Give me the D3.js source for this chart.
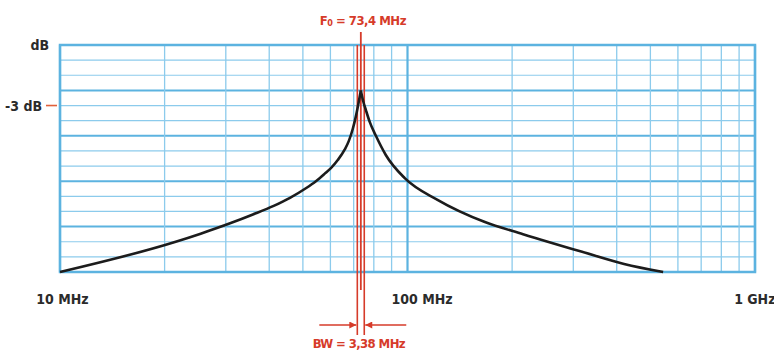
<!DOCTYPE html>
<html>
<head>
<meta charset="utf-8">
<script src="https://cdn.jsdelivr.net/npm/d3@7"></script>
<style>
    body { margin: 0; background: #fff; }
    svg text { font-family: "Liberation Sans Narrow", "DejaVu Sans Condensed", "Liberation Sans", sans-serif; font-weight: bold; }
</style>
</head>
<body>
<div id="chart"></div>
<script>
// frequencies in MHz, level in dB relative to the peak
const lowerFreq = [10, 21.3, 25.4, 31.0, 35.9, 41.2, 45.9, 51.0, 54.5, 57.8, 60.2, 63.0, 66.0, 67.8, 69.6, 71.0, 72.2, 73.4];
const lowerDb = [-36, -30.1, -28.4, -26.3, -24.6, -22.9, -21.3, -19.4, -18.0, -16.5, -15.4, -13.8, -11.7, -10.0, -7.6, -5.2, -2.7, 0];
const upperFreq = [73.4, 74.6, 75.9, 77.9, 81.1, 86.6, 98.2, 122, 167, 215, 318, 420, 544];
const upperDb = [0, -2.2, -3.9, -6.3, -9.0, -12.8, -17.4, -21.7, -26.1, -28.5, -32.0, -34.4, -36];

const freqTicks = [10, 100, 1000];
const freqLabels = ["10 MHz", "100 MHz", "1 GHz"];
const dbTicks = [-3];
const dbLabels = ["-3 dB"];

const centerFreq = 73.4;
const bandwidth = 3.38;

const width = 774;
const height = 359;
const margin = { top: 45, right: 19, bottom: 87, left: 60 };

const red = "#d63b2a";
const blue = "#5cb3e0";
const lightBlue = "#8ccbec";

const svg = d3.select("#chart")
    .append("svg")
    .attr("width", width)
    .attr("height", height);

const x = d3.scaleLog()
    .domain([10, 1000])
    .range([margin.left, width - margin.right]);

const y = d3.scaleLinear()
    .domain([-36, 9])
    .range([height - margin.bottom, margin.top]);

// grid
const xGrid = x.ticks();
const yGrid = d3.range(-36, 10, 3);

svg.append("g")
    .selectAll("line")
    .data(yGrid)
    .enter()
    .append("line")
    .attr("x1", x(10))
    .attr("x2", x(1000))
    .attr("y1", d => y(d))
    .attr("y2", d => y(d))
    .attr("stroke", d => d % 9 === 0 ? blue : lightBlue)
    .attr("stroke-width", d => d % 9 === 0 ? 2 : 1.2);

svg.append("g")
    .selectAll("line")
    .data(xGrid)
    .enter()
    .append("line")
    .attr("x1", d => x(d))
    .attr("x2", d => x(d))
    .attr("y1", y(9))
    .attr("y2", y(-36))
    .attr("stroke", d => freqTicks.includes(d) ? blue : lightBlue)
    .attr("stroke-width", d => freqTicks.includes(d) ? 2.2 : 1.3);

svg.append("rect")
    .attr("x", x(10))
    .attr("y", y(9))
    .attr("width", x(1000) - x(10))
    .attr("height", y(-36) - y(9))
    .attr("fill", "none")
    .attr("stroke", blue)
    .attr("stroke-width", 2.5);

// red markers
const bwLow = centerFreq - bandwidth / 2;
const bwHigh = centerFreq + bandwidth / 2;

svg.append("line")
    .attr("x1", x(centerFreq))
    .attr("x2", x(centerFreq))
    .attr("y1", margin.top - 13)
    .attr("y2", y(-36) + 18)
    .attr("stroke", red)
    .attr("stroke-width", 1.8);

svg.selectAll(".bw-line")
    .data([bwLow, bwHigh])
    .enter()
    .append("line")
    .attr("class", "bw-line")
    .attr("x1", d => x(d))
    .attr("x2", d => x(d))
    .attr("y1", y(9))
    .attr("y2", y(-36) + 63)
    .attr("stroke", red)
    .attr("stroke-width", 1.6);

const defs = svg.append("defs");
defs.append("marker")
    .attr("id", "arrow")
    .attr("viewBox", "0 0 10 10")
    .attr("refX", 10)
    .attr("refY", 5)
    .attr("markerWidth", 9)
    .attr("markerHeight", 7)
    .attr("markerUnits", "userSpaceOnUse")
    .attr("orient", "auto")
    .append("path")
    .attr("d", "M0,0 L10,5 L0,10 Z")
    .attr("fill", red);

const arrowY = y(-36) + 53;
svg.append("line")
    .attr("x1", x(bwLow) - 38)
    .attr("x2", x(bwLow) - 1)
    .attr("y1", arrowY)
    .attr("y2", arrowY)
    .attr("stroke", red)
    .attr("stroke-width", 1.5)
    .attr("marker-end", "url(#arrow)");

svg.append("line")
    .attr("x1", x(bwHigh) + 42)
    .attr("x2", x(bwHigh) + 1)
    .attr("y1", arrowY)
    .attr("y2", arrowY)
    .attr("stroke", red)
    .attr("stroke-width", 1.5)
    .attr("marker-end", "url(#arrow)");

// response curve, two branches meeting at the peak
const line = d3.line()
    .x(d => x(d[0]))
    .y(d => y(d[1]))
    .curve(d3.curveMonotoneX);

[d3.zip(lowerFreq, lowerDb), d3.zip(upperFreq, upperDb)].forEach(branch => {
    svg.append("path")
        .datum(branch)
        .attr("fill", "none")
        .attr("stroke", "#1c1c1c")
        .attr("stroke-width", 2.6)
        .attr("stroke-linejoin", "round")
        .attr("d", line);
});

// labels
const xAxis = svg.append("g")
    .attr("transform", `translate(0,${y(-36) + 32})`)
    .call(d3.axisBottom(x)
        .tickValues(freqTicks)
        .tickFormat((d, i) => freqLabels[i])
        .tickSize(0));
xAxis.select(".domain").remove();
xAxis.selectAll("text")
    .attr("y", 0)
    .attr("dy", 0)
    .attr("dx", d => d === 100 ? 14 : 2)
    .attr("text-anchor", d => d === 1000 ? "end" : "middle")
    .attr("x", d => d === 1000 ? 18 : 0)
    .attr("fill", "#2b2b2b")
    .style("font-size", "14px");

svg.append("text")
    .attr("x", margin.left - 11)
    .attr("y", margin.top + 5)
    .attr("text-anchor", "end")
    .attr("fill", "#2b2b2b")
    .style("font-size", "14px")
    .text("dB");

svg.selectAll(".db-label")
    .data(dbTicks)
    .enter()
    .append("text")
    .attr("class", "db-label")
    .attr("x", margin.left - 18)
    .attr("y", d => y(d) + 5)
    .attr("text-anchor", "end")
    .attr("fill", "#2b2b2b")
    .style("font-size", "14px")
    .text((d, i) => dbLabels[i]);

svg.selectAll(".db-tick")
    .data(dbTicks)
    .enter()
    .append("line")
    .attr("class", "db-tick")
    .attr("x1", margin.left - 14)
    .attr("x2", margin.left - 3)
    .attr("y1", d => y(d))
    .attr("y2", d => y(d))
    .attr("stroke", "#e0603a")
    .attr("stroke-width", 1.6);

const f0 = svg.append("text")
    .attr("x", x(centerFreq) + 2)
    .attr("y", margin.top - 20)
    .attr("text-anchor", "middle")
    .attr("fill", red)
    .style("font-size", "13px")
    .style("letter-spacing", "-0.5px");
f0.append("tspan").text("F");
f0.append("tspan").attr("dy", 1).style("font-size", "9px").text("0");
f0.append("tspan").attr("dy", -1).text(" = 73,4 MHz");

svg.append("text")
    .attr("x", x(centerFreq) - 2)
    .attr("y", height - 11)
    .attr("text-anchor", "middle")
    .attr("fill", red)
    .style("font-size", "13px")
    .style("letter-spacing", "-0.6px")
    .text("BW = 3,38 MHz");
</script>
</body>
</html>
